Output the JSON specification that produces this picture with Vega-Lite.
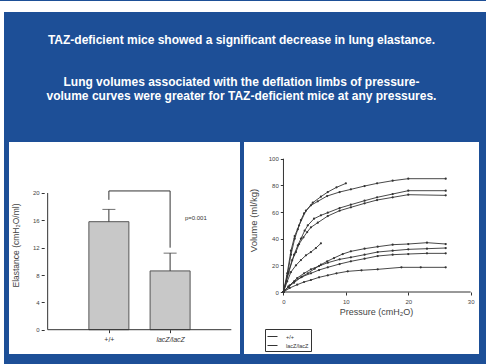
{
 "$schema": "https://vega.github.io/schema/vega-lite/v6.json",
 "background": "#1d4f97",
 "padding": 0,
 "spacing": 0,
 "config": {
  "view": {"stroke": null},
  "font": "Liberation Sans",
  "axis": {"grid": false, "domain": false, "labelOverlap": false, "labelFont": "Liberation Sans", "titleFont": "Liberation Sans", "labelColor": "#444", "titleColor": "#444", "titleFontWeight": "normal", "tickColor": "#333", "tickSize": 3, "labelFontSize": 6}
 },
 "hconcat": [
  {"width": 4, "height": 364, "view": {"fill": "white"}, "data": {"values": [{}]}, "mark": {"type": "text", "text": ""}},
  {"spacing": 22, "vconcat": [
   {"width": 482, "height": 11, "view": {"fill": "white"}, "data": {"values": [{}]}, "mark": {"type": "text", "text": ""}},
   {"spacing": 4,
    "resolve": {"scale": {"color": "independent"}},
    "title": {
     "text": "TAZ-deficient mice showed a significant decrease in lung elastance.",
     "subtitle": ["Lung volumes associated with the deflation limbs of pressure-", "volume curves were greater for TAZ-deficient mice at any pressures."],
     "anchor": "middle", "color": "white", "subtitleColor": "white",
     "font": "Liberation Sans", "subtitleFont": "Liberation Sans",
     "fontSize": 12, "subtitleFontSize": 12, "fontWeight": "bold", "subtitleFontWeight": "bold",
     "subtitlePadding": 30, "subtitleLineHeight": 13.5, "offset": 39.5
    },
    "hconcat": [
     {"width": 1, "height": 212, "data": {"values": [{}]}, "mark": {"type": "text", "text": ""}},
     {"width": 231, "height": 212, "view": {"fill": "white"},
      "data": {"values": [
       {"genotype": "+/+", "group_index": 1, "mean": 15.8, "upper": 17.6},
       {"genotype": "lacZ/lacZ", "group_index": 2, "mean": 8.6, "upper": 11.2}
      ]},
      "layer": [
       {"mark": {"type": "bar", "orient": "vertical", "size": 40, "fill": "#c8c8c8", "stroke": "#555", "strokeWidth": 1},
        "encoding": {
         "x": {"field": "group_index", "type": "quantitative", "scale": {"domain": [-0.55, 3.06], "nice": false, "zero": false},
          "axis": {"values": [1, 2], "offset": -24.3, "labelOverlap": false, "labelExpr": "datum.value == 1 ? '+/+' : 'lacZ/lacZ'", "labelFontSize": 7, "labelColor": "#333", "labelFontStyle": {"condition": {"test": "datum.value == 2", "value": "italic"}, "value": "normal"}, "labelPadding": 3, "title": null}},
         "y": {"field": "mean", "type": "quantitative", "scale": {"domain": [-3.555, 27.46], "nice": false, "zero": false},
          "axis": {"values": [0, 2, 4, 6, 8, 10, 12, 14, 16, 18, 20], "offset": -35.2, "labelOverlap": false, "labelPadding": 2, "title": "Elastance (cmH₂O/ml)", "titleFontSize": 8.5, "titlePadding": 12, "titleY": 103}},
         "y2": {"datum": 0}
        }},
       {"mark": {"type": "rule", "color": "#333", "strokeWidth": 1},
        "encoding": {
         "x": {"field": "group_index", "type": "quantitative", "scale": {"domain": [-0.55, 3.06], "nice": false, "zero": false}},
         "y": {"field": "mean", "type": "quantitative", "scale": {"domain": [-3.555, 27.46], "nice": false, "zero": false}},
         "y2": {"field": "upper"}
        }},
       {"mark": {"type": "tick", "orient": "horizontal", "size": 13, "thickness": 1, "color": "#333"},
        "encoding": {
         "x": {"field": "group_index", "type": "quantitative", "scale": {"domain": [-0.55, 3.06], "nice": false, "zero": false}},
         "y": {"field": "upper", "type": "quantitative", "scale": {"domain": [-3.555, 27.46], "nice": false, "zero": false}}
        }},
       {"data": {"values": [
         {"step": 1, "group_index": 1, "level": 19.0},
         {"step": 2, "group_index": 1, "level": 20.3},
         {"step": 3, "group_index": 2, "level": 20.3},
         {"step": 4, "group_index": 2, "level": 12.0}
        ]},
        "mark": {"type": "line", "color": "#333", "strokeWidth": 1},
        "encoding": {
         "x": {"field": "group_index", "type": "quantitative", "scale": {"domain": [-0.55, 3.06], "nice": false, "zero": false}},
         "y": {"field": "level", "type": "quantitative", "scale": {"domain": [-3.555, 27.46], "nice": false, "zero": false}},
         "order": {"field": "step"}
        }},
       {"data": {"values": [{"label": "p=0.001", "position": 2.42, "level": 16.3}]},
        "mark": {"type": "text", "fontSize": 6, "color": "#333"},
        "encoding": {
         "x": {"field": "position", "type": "quantitative", "scale": {"domain": [-0.55, 3.06], "nice": false, "zero": false}},
         "y": {"field": "level", "type": "quantitative", "scale": {"domain": [-3.555, 27.46], "nice": false, "zero": false}},
         "text": {"field": "label"}
        }},
       {"data": {"values": [{}]}, "mark": {"type": "rule", "color": "#333", "strokeWidth": 1},
        "encoding": {
         "x": {"datum": 0, "type": "quantitative", "scale": {"domain": [-0.55, 3.06], "nice": false, "zero": false}},
         "y": {"datum": 0, "type": "quantitative", "scale": {"domain": [-3.555, 27.46], "nice": false, "zero": false}},
         "y2": {"datum": 20}
        }},
       {"data": {"values": [{}]}, "mark": {"type": "rule", "color": "#333", "strokeWidth": 1},
        "encoding": {
         "x": {"datum": 0, "type": "quantitative", "scale": {"domain": [-0.55, 3.06], "nice": false, "zero": false}},
         "x2": {"datum": 3},
         "y": {"datum": 0, "type": "quantitative", "scale": {"domain": [-3.555, 27.46], "nice": false, "zero": false}}
        }}
      ]
     },
     {"width": 235, "height": 212, "view": {"fill": "white"},
      "data": {"values": [
       {"mouse": "A", "genotype": "lacZ/lacZ", "pressure": 0, "volume": 0},
       {"mouse": "A", "genotype": "lacZ/lacZ", "pressure": 0.6, "volume": 12},
       {"mouse": "A", "genotype": "lacZ/lacZ", "pressure": 1.2, "volume": 28},
       {"mouse": "A", "genotype": "lacZ/lacZ", "pressure": 1.8, "volume": 40},
       {"mouse": "A", "genotype": "lacZ/lacZ", "pressure": 2.3, "volume": 47},
       {"mouse": "A", "genotype": "lacZ/lacZ", "pressure": 2.8, "volume": 54},
       {"mouse": "A", "genotype": "lacZ/lacZ", "pressure": 3.3, "volume": 59},
       {"mouse": "A", "genotype": "lacZ/lacZ", "pressure": 4.4, "volume": 65},
       {"mouse": "A", "genotype": "lacZ/lacZ", "pressure": 5.5, "volume": 68},
       {"mouse": "A", "genotype": "lacZ/lacZ", "pressure": 7, "volume": 72},
       {"mouse": "A", "genotype": "lacZ/lacZ", "pressure": 9, "volume": 75},
       {"mouse": "A", "genotype": "lacZ/lacZ", "pressure": 10.8, "volume": 77},
       {"mouse": "A", "genotype": "lacZ/lacZ", "pressure": 13, "volume": 79.5},
       {"mouse": "A", "genotype": "lacZ/lacZ", "pressure": 15, "volume": 81.5},
       {"mouse": "A", "genotype": "lacZ/lacZ", "pressure": 17.5, "volume": 83.5},
       {"mouse": "A", "genotype": "lacZ/lacZ", "pressure": 20, "volume": 85},
       {"mouse": "A", "genotype": "lacZ/lacZ", "pressure": 26, "volume": 85},
       {"mouse": "B", "genotype": "lacZ/lacZ", "pressure": 0, "volume": 0},
       {"mouse": "B", "genotype": "lacZ/lacZ", "pressure": 0.6, "volume": 14},
       {"mouse": "B", "genotype": "lacZ/lacZ", "pressure": 1.2, "volume": 31},
       {"mouse": "B", "genotype": "lacZ/lacZ", "pressure": 1.8, "volume": 42},
       {"mouse": "B", "genotype": "lacZ/lacZ", "pressure": 2.5, "volume": 50},
       {"mouse": "B", "genotype": "lacZ/lacZ", "pressure": 3.6, "volume": 61},
       {"mouse": "B", "genotype": "lacZ/lacZ", "pressure": 4.7, "volume": 67},
       {"mouse": "B", "genotype": "lacZ/lacZ", "pressure": 6, "volume": 71.5},
       {"mouse": "B", "genotype": "lacZ/lacZ", "pressure": 7.1, "volume": 75},
       {"mouse": "B", "genotype": "lacZ/lacZ", "pressure": 8.5, "volume": 78.5},
       {"mouse": "B", "genotype": "lacZ/lacZ", "pressure": 10, "volume": 81.5},
       {"mouse": "C", "genotype": "lacZ/lacZ", "pressure": 0, "volume": 0},
       {"mouse": "C", "genotype": "lacZ/lacZ", "pressure": 0.8, "volume": 14},
       {"mouse": "C", "genotype": "lacZ/lacZ", "pressure": 1.7, "volume": 28},
       {"mouse": "C", "genotype": "lacZ/lacZ", "pressure": 2.3, "volume": 35},
       {"mouse": "C", "genotype": "lacZ/lacZ", "pressure": 2.8, "volume": 40},
       {"mouse": "C", "genotype": "lacZ/lacZ", "pressure": 3.4, "volume": 46},
       {"mouse": "C", "genotype": "lacZ/lacZ", "pressure": 3.9, "volume": 50},
       {"mouse": "C", "genotype": "lacZ/lacZ", "pressure": 4.9, "volume": 55},
       {"mouse": "C", "genotype": "lacZ/lacZ", "pressure": 6, "volume": 57.5},
       {"mouse": "C", "genotype": "lacZ/lacZ", "pressure": 7.1, "volume": 59.5},
       {"mouse": "C", "genotype": "lacZ/lacZ", "pressure": 9, "volume": 63},
       {"mouse": "C", "genotype": "lacZ/lacZ", "pressure": 10.8, "volume": 65.5},
       {"mouse": "C", "genotype": "lacZ/lacZ", "pressure": 13, "volume": 68.5},
       {"mouse": "C", "genotype": "lacZ/lacZ", "pressure": 15, "volume": 71},
       {"mouse": "C", "genotype": "lacZ/lacZ", "pressure": 17.5, "volume": 73.5},
       {"mouse": "C", "genotype": "lacZ/lacZ", "pressure": 20, "volume": 76},
       {"mouse": "C", "genotype": "lacZ/lacZ", "pressure": 26, "volume": 76},
       {"mouse": "D", "genotype": "lacZ/lacZ", "pressure": 0, "volume": 0},
       {"mouse": "D", "genotype": "lacZ/lacZ", "pressure": 0.8, "volume": 15},
       {"mouse": "D", "genotype": "lacZ/lacZ", "pressure": 1.4, "volume": 24},
       {"mouse": "D", "genotype": "lacZ/lacZ", "pressure": 2, "volume": 30},
       {"mouse": "D", "genotype": "lacZ/lacZ", "pressure": 2.5, "volume": 36},
       {"mouse": "D", "genotype": "lacZ/lacZ", "pressure": 3.2, "volume": 41},
       {"mouse": "D", "genotype": "lacZ/lacZ", "pressure": 3.8, "volume": 45},
       {"mouse": "D", "genotype": "lacZ/lacZ", "pressure": 4.4, "volume": 48.5},
       {"mouse": "D", "genotype": "lacZ/lacZ", "pressure": 5.5, "volume": 52},
       {"mouse": "D", "genotype": "lacZ/lacZ", "pressure": 7.1, "volume": 57},
       {"mouse": "D", "genotype": "lacZ/lacZ", "pressure": 9, "volume": 61},
       {"mouse": "D", "genotype": "lacZ/lacZ", "pressure": 10.8, "volume": 63.5},
       {"mouse": "D", "genotype": "lacZ/lacZ", "pressure": 13, "volume": 66.5},
       {"mouse": "D", "genotype": "lacZ/lacZ", "pressure": 15, "volume": 69},
       {"mouse": "D", "genotype": "lacZ/lacZ", "pressure": 17.5, "volume": 71},
       {"mouse": "D", "genotype": "lacZ/lacZ", "pressure": 20, "volume": 73},
       {"mouse": "D", "genotype": "lacZ/lacZ", "pressure": 26, "volume": 72.5},
       {"mouse": "E", "genotype": "+/+", "pressure": 0, "volume": 0},
       {"mouse": "E", "genotype": "+/+", "pressure": 0.6, "volume": 8},
       {"mouse": "E", "genotype": "+/+", "pressure": 1.2, "volume": 15},
       {"mouse": "E", "genotype": "+/+", "pressure": 2, "volume": 20},
       {"mouse": "E", "genotype": "+/+", "pressure": 2.8, "volume": 24},
       {"mouse": "E", "genotype": "+/+", "pressure": 3.6, "volume": 27.5},
       {"mouse": "E", "genotype": "+/+", "pressure": 4.4, "volume": 30},
       {"mouse": "E", "genotype": "+/+", "pressure": 5.2, "volume": 33},
       {"mouse": "E", "genotype": "+/+", "pressure": 6, "volume": 36.5},
       {"mouse": "F", "genotype": "+/+", "pressure": 0, "volume": 0},
       {"mouse": "F", "genotype": "+/+", "pressure": 0.8, "volume": 4},
       {"mouse": "F", "genotype": "+/+", "pressure": 1.7, "volume": 7},
       {"mouse": "F", "genotype": "+/+", "pressure": 2.8, "volume": 11},
       {"mouse": "F", "genotype": "+/+", "pressure": 3.9, "volume": 14},
       {"mouse": "F", "genotype": "+/+", "pressure": 5, "volume": 17.5},
       {"mouse": "F", "genotype": "+/+", "pressure": 6, "volume": 20.5},
       {"mouse": "F", "genotype": "+/+", "pressure": 7, "volume": 23},
       {"mouse": "F", "genotype": "+/+", "pressure": 8.1, "volume": 25.5},
       {"mouse": "F", "genotype": "+/+", "pressure": 9.5, "volume": 28.5},
       {"mouse": "F", "genotype": "+/+", "pressure": 10.8, "volume": 30.5},
       {"mouse": "F", "genotype": "+/+", "pressure": 13, "volume": 32.5},
       {"mouse": "F", "genotype": "+/+", "pressure": 15.1, "volume": 34},
       {"mouse": "F", "genotype": "+/+", "pressure": 17.5, "volume": 35.5},
       {"mouse": "F", "genotype": "+/+", "pressure": 20, "volume": 36},
       {"mouse": "F", "genotype": "+/+", "pressure": 23, "volume": 37},
       {"mouse": "F", "genotype": "+/+", "pressure": 26, "volume": 36},
       {"mouse": "G", "genotype": "+/+", "pressure": 0, "volume": 0},
       {"mouse": "G", "genotype": "+/+", "pressure": 1, "volume": 5},
       {"mouse": "G", "genotype": "+/+", "pressure": 2.2, "volume": 10.5},
       {"mouse": "G", "genotype": "+/+", "pressure": 3.3, "volume": 14},
       {"mouse": "G", "genotype": "+/+", "pressure": 4.4, "volume": 17},
       {"mouse": "G", "genotype": "+/+", "pressure": 5.7, "volume": 19.5},
       {"mouse": "G", "genotype": "+/+", "pressure": 7.1, "volume": 22},
       {"mouse": "G", "genotype": "+/+", "pressure": 9, "volume": 24.5},
       {"mouse": "G", "genotype": "+/+", "pressure": 10.8, "volume": 26},
       {"mouse": "G", "genotype": "+/+", "pressure": 13, "volume": 28},
       {"mouse": "G", "genotype": "+/+", "pressure": 15.1, "volume": 30},
       {"mouse": "G", "genotype": "+/+", "pressure": 17.5, "volume": 31},
       {"mouse": "G", "genotype": "+/+", "pressure": 20, "volume": 32},
       {"mouse": "G", "genotype": "+/+", "pressure": 23, "volume": 32.5},
       {"mouse": "G", "genotype": "+/+", "pressure": 26, "volume": 33},
       {"mouse": "H", "genotype": "+/+", "pressure": 0, "volume": 0},
       {"mouse": "H", "genotype": "+/+", "pressure": 0.8, "volume": 4},
       {"mouse": "H", "genotype": "+/+", "pressure": 1.7, "volume": 8},
       {"mouse": "H", "genotype": "+/+", "pressure": 3, "volume": 11.5},
       {"mouse": "H", "genotype": "+/+", "pressure": 4.4, "volume": 14},
       {"mouse": "H", "genotype": "+/+", "pressure": 5.7, "volume": 16.5},
       {"mouse": "H", "genotype": "+/+", "pressure": 7.1, "volume": 18.5},
       {"mouse": "H", "genotype": "+/+", "pressure": 9, "volume": 21},
       {"mouse": "H", "genotype": "+/+", "pressure": 10.8, "volume": 23},
       {"mouse": "H", "genotype": "+/+", "pressure": 13, "volume": 25},
       {"mouse": "H", "genotype": "+/+", "pressure": 15.1, "volume": 27},
       {"mouse": "H", "genotype": "+/+", "pressure": 17.5, "volume": 28},
       {"mouse": "H", "genotype": "+/+", "pressure": 20, "volume": 28.5},
       {"mouse": "H", "genotype": "+/+", "pressure": 23, "volume": 29},
       {"mouse": "H", "genotype": "+/+", "pressure": 26, "volume": 29},
       {"mouse": "I", "genotype": "+/+", "pressure": 0, "volume": 0},
       {"mouse": "I", "genotype": "+/+", "pressure": 1, "volume": 3},
       {"mouse": "I", "genotype": "+/+", "pressure": 2.2, "volume": 5.5},
       {"mouse": "I", "genotype": "+/+", "pressure": 3.3, "volume": 7.5},
       {"mouse": "I", "genotype": "+/+", "pressure": 4.4, "volume": 9},
       {"mouse": "I", "genotype": "+/+", "pressure": 5.7, "volume": 11},
       {"mouse": "I", "genotype": "+/+", "pressure": 7.1, "volume": 12.5},
       {"mouse": "I", "genotype": "+/+", "pressure": 8.5, "volume": 14},
       {"mouse": "I", "genotype": "+/+", "pressure": 10.3, "volume": 15.5},
       {"mouse": "I", "genotype": "+/+", "pressure": 12.5, "volume": 16.3},
       {"mouse": "I", "genotype": "+/+", "pressure": 15.1, "volume": 17},
       {"mouse": "I", "genotype": "+/+", "pressure": 18.9, "volume": 18.5},
       {"mouse": "I", "genotype": "+/+", "pressure": 22, "volume": 18.5},
       {"mouse": "I", "genotype": "+/+", "pressure": 26, "volume": 18.5}
      ]},
      "layer": [
       {"mark": {"type": "line", "strokeWidth": 0.9},
        "encoding": {
         "x": {"field": "pressure", "type": "quantitative", "scale": {"domain": [-6.325, 31.336], "nice": false, "zero": false},
          "axis": {"values": [0, 5, 10, 15, 20, 25, 30], "offset": -62, "labelOverlap": false, "labelPadding": 3, "title": "Pressure (cmH₂O)", "titleFontSize": 9, "titlePadding": 3, "titleX": 132}},
         "y": {"field": "volume", "type": "quantitative", "scale": {"domain": [-46.51, 112.53], "nice": false, "zero": false},
          "axis": {"values": [0, 20, 40, 60, 80, 100], "offset": -39.3, "labelOverlap": false, "labelPadding": 2, "title": "Volume (ml/kg)", "titleFontSize": 9.5, "titlePadding": 10, "titleY": 78}},
         "detail": {"field": "mouse"},
         "color": {"field": "genotype", "type": "nominal", "scale": {"domain": ["+/+", "lacZ/lacZ"], "range": ["#333333", "#333333"]},
          "legend": {"title": null, "orient": "none", "legendX": 21, "legendY": 187, "symbolType": "stroke", "symbolSize": 100, "symbolStrokeWidth": 1, "labelFontSize": 5.5, "labelOffset": 8, "labelColor": "#333", "strokeColor": "#333", "fillColor": "white", "padding": 2, "rowPadding": -2}}
        }},
       {"mark": {"type": "circle", "size": 5, "color": "#333", "opacity": 1},
        "encoding": {
         "x": {"field": "pressure", "type": "quantitative", "scale": {"domain": [-6.325, 31.336], "nice": false, "zero": false}},
         "y": {"field": "volume", "type": "quantitative", "scale": {"domain": [-46.51, 112.53], "nice": false, "zero": false}}
        }},
       {"data": {"values": [{}]}, "mark": {"type": "rule", "color": "#333", "strokeWidth": 1},
        "encoding": {
         "x": {"datum": 0, "type": "quantitative", "scale": {"domain": [-6.325, 31.336], "nice": false, "zero": false}},
         "y": {"datum": 0, "type": "quantitative", "scale": {"domain": [-46.51, 112.53], "nice": false, "zero": false}},
         "y2": {"datum": 100}
        }},
       {"data": {"values": [{}]}, "mark": {"type": "rule", "color": "#333", "strokeWidth": 1},
        "encoding": {
         "x": {"datum": 0, "type": "quantitative", "scale": {"domain": [-6.325, 31.336], "nice": false, "zero": false}},
         "x2": {"datum": 30},
         "y": {"datum": 0, "type": "quantitative", "scale": {"domain": [-46.51, 112.53], "nice": false, "zero": false}}
        }}
      ]
     }
    ]
   }
  ]}
 ]
}
